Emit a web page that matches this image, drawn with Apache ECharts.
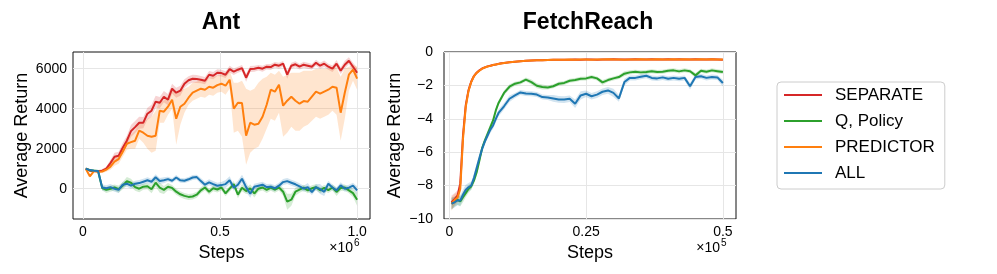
<!DOCTYPE html>
<html>
<head>
<meta charset="utf-8">
<script src="https://cdn.jsdelivr.net/npm/echarts@6/dist/echarts.min.js"></script>
<style>html,body{margin:0;padding:0;background:#fff}#c{width:997px;height:274px}</style>
</head>
<body>
<div id="c"></div>
<script>
// ---------- Ant (x in units of 1e6 steps) ----------
const antSteps = [0.010,0.025,0.040,0.055,0.070,0.085,0.100,0.115,0.130,0.145,0.160,0.175,0.190,0.205,0.220,0.235,0.250,0.265,0.280,0.295,0.310,0.325,0.340,0.355,0.370,0.385,0.400,0.415,0.430,0.445,0.460,0.475,0.490,0.505,0.520,0.535,0.550,0.565,0.580,0.595,0.610,0.625,0.640,0.655,0.670,0.685,0.700,0.715,0.730,0.745,0.760,0.775,0.790,0.805,0.820,0.835,0.850,0.865,0.880,0.895,0.910,0.925,0.940,0.955,0.970,0.985,1.000];
const antSeparate = [1000,900,880,870,900,1000,1280,1600,1650,2050,2400,2880,3080,3300,3300,3750,3900,4350,4300,4600,4450,5000,4800,4900,5250,5420,5500,5480,5450,5400,5700,5650,5800,5780,5700,5980,5850,5950,6030,5550,5980,6000,6050,6000,6100,6080,6200,6150,6250,5700,6150,6220,6100,6200,6150,6100,6300,6150,6250,6100,6000,6250,5900,6200,6400,6100,5800];
const antSeparateStd = [60,80,60,60,80,100,150,200,200,250,250,300,300,300,280,300,300,300,280,280,280,250,250,250,220,200,200,200,180,180,180,180,170,170,170,170,160,150,160,200,150,150,140,150,140,150,140,150,140,200,150,150,140,150,150,140,150,150,160,150,160,180,170,200,170,200,250];
const antQPolicy = [1000,920,900,880,30,-60,0,60,-20,150,380,300,80,0,100,120,-30,300,50,-60,100,40,-150,-280,-360,-410,-390,-300,-80,60,-150,20,-40,60,-230,0,230,-300,50,-120,20,-240,0,60,-60,50,-50,60,-150,-650,-550,-150,-50,50,-80,20,70,-80,40,-70,60,-160,30,60,-80,-220,-550];
const antQPolicyStd = [50,60,60,60,120,150,150,150,180,180,200,200,180,180,150,150,200,200,250,200,180,150,150,150,150,150,150,150,150,150,150,150,150,150,150,150,150,180,180,150,200,200,150,150,150,150,150,150,200,400,300,200,150,150,150,150,150,150,150,150,150,200,150,150,150,200,300];
const antPredictor = [1000,620,880,850,860,950,1100,1350,1480,1850,2250,2330,2400,2900,2800,2650,2600,2650,3900,3850,4100,4450,3500,4100,4250,4550,4800,4900,5000,4950,5100,5050,5180,5250,5150,5450,4000,4300,4280,2650,3300,3200,3250,3600,4200,4950,4850,5200,4150,4400,4600,4400,4250,4380,4350,4600,4850,4750,4850,4950,5100,5050,3800,4800,5700,5950,5500];
const antPredictorLo = [950,550,820,800,790,850,950,1150,1250,1600,1950,2000,2000,2500,2300,2000,1800,1900,3300,3300,3700,4000,2200,3200,3800,4200,4400,4500,4600,4550,4700,4650,4800,4850,4700,5000,2800,2900,2600,1200,1800,2000,2100,2500,3000,3500,3400,3800,2600,2800,3100,2900,2900,3100,3200,3400,3600,3500,3600,3700,3900,3700,2400,3500,4900,5400,4950];
const antPredictorHi = [1050,700,940,900,930,1050,1250,1550,1700,2100,2550,2700,2900,3300,3300,3500,3600,3900,4400,4400,4600,4900,4800,4900,5000,5100,5300,5350,5450,5400,5550,5600,5650,5700,5700,5900,5300,5300,5400,5000,4900,5000,5300,5500,5600,5800,5700,5900,5600,5700,5800,5800,5800,5900,5900,5900,6000,6000,6000,6000,6050,6050,5600,6000,6100,6200,6100];
const antAll = [1000,930,900,890,60,20,80,0,-60,200,250,150,250,280,350,420,350,570,380,420,480,400,560,420,400,470,560,580,380,200,320,230,150,180,230,420,50,200,500,80,-250,100,150,200,80,100,20,150,330,380,300,220,120,0,80,-170,80,-20,-160,250,60,-80,170,0,50,150,-80];
const antAllStd = [50,60,60,60,150,150,150,150,150,150,150,150,150,150,150,150,150,150,150,150,120,120,120,120,120,120,120,120,150,150,150,150,150,150,200,200,150,200,200,250,200,150,150,150,150,150,150,150,150,150,150,150,150,150,200,150,150,250,200,150,150,150,150,150,150,150,200];
const antXTicks = [0, 0.5, 1.0];
const antYTicks = [0, 2000, 4000, 6000];

// ---------- FetchReach (x in units of 1e5 steps) ----------
const fetchSteps = [0.004,0.010,0.015,0.020,0.025,0.030,0.035,0.040,0.045,0.050,0.055,0.060,0.065,0.070,0.075,0.080,0.085,0.090,0.095,0.100,0.110,0.120,0.130,0.140,0.150,0.160,0.170,0.180,0.190,0.200,0.210,0.220,0.230,0.240,0.250,0.260,0.270,0.280,0.290,0.300,0.310,0.320,0.330,0.340,0.350,0.360,0.370,0.380,0.390,0.400,0.410,0.420,0.430,0.440,0.450,0.460,0.470,0.480,0.490,0.500];
const fetchSeparate = [-9.0,-8.8,-8.6,-7.9,-5.0,-3.2,-2.3,-1.78,-1.44,-1.24,-1.1,-0.99,-0.92,-0.86,-0.82,-0.78,-0.75,-0.71,-0.68,-0.66,-0.61,-0.58,-0.55,-0.53,-0.51,-0.5,-0.49,-0.48,-0.47,-0.46,-0.46,-0.46,-0.45,-0.46,-0.45,-0.45,-0.46,-0.45,-0.45,-0.44,-0.45,-0.45,-0.45,-0.44,-0.45,-0.45,-0.44,-0.45,-0.45,-0.44,-0.45,-0.44,-0.45,-0.45,-0.44,-0.45,-0.45,-0.44,-0.45,-0.46];
const fetchSeparateStd = [0.4,0.35,0.3,0.4,0.5,0.3,0.2,0.15,0.1,0.08,0.07,0.06,0.06,0.05,0.05,0.05,0.05,0.05,0.05,0.05,0.04,0.04,0.04,0.04,0.04,0.04,0.04,0.04,0.04,0.04,0.04,0.04,0.04,0.04,0.04,0.04,0.04,0.04,0.04,0.04,0.04,0.04,0.04,0.04,0.04,0.04,0.04,0.04,0.04,0.04,0.04,0.04,0.04,0.04,0.04,0.04,0.04,0.04,0.04,0.04];
const fetchQPolicy = [-9.08,-8.95,-8.85,-8.95,-8.7,-8.45,-8.2,-8.05,-7.7,-7.2,-6.5,-5.75,-5.3,-4.9,-4.5,-4.1,-3.5,-3.05,-2.75,-2.45,-2.08,-1.9,-1.82,-1.65,-1.8,-2.02,-2.1,-2.12,-2.05,-1.9,-1.85,-1.72,-1.68,-1.6,-1.58,-1.5,-1.58,-1.82,-1.68,-1.58,-1.5,-1.3,-1.22,-1.18,-1.22,-1.2,-1.15,-1.2,-1.18,-1.12,-1.1,-1.16,-1.1,-1.15,-1.4,-1.12,-1.18,-1.1,-1.15,-1.2];
const fetchQPolicyStd = [0.35,0.3,0.3,0.3,0.3,0.25,0.25,0.2,0.2,0.2,0.2,0.2,0.2,0.2,0.2,0.15,0.15,0.15,0.15,0.15,0.15,0.12,0.12,0.12,0.15,0.15,0.15,0.12,0.12,0.12,0.12,0.12,0.12,0.12,0.12,0.12,0.12,0.15,0.12,0.12,0.12,0.15,0.12,0.12,0.12,0.12,0.12,0.12,0.12,0.12,0.12,0.12,0.12,0.12,0.15,0.12,0.12,0.12,0.12,0.12];
const fetchPredictor = [-9.1,-8.85,-8.72,-8.2,-5.2,-3.3,-2.35,-1.8,-1.45,-1.25,-1.12,-1.0,-0.93,-0.87,-0.83,-0.78,-0.75,-0.72,-0.69,-0.66,-0.62,-0.58,-0.55,-0.53,-0.51,-0.5,-0.49,-0.48,-0.47,-0.47,-0.46,-0.45,-0.46,-0.45,-0.45,-0.46,-0.45,-0.45,-0.44,-0.45,-0.45,-0.46,-0.45,-0.45,-0.44,-0.45,-0.45,-0.44,-0.45,-0.45,-0.44,-0.45,-0.44,-0.45,-0.45,-0.44,-0.45,-0.44,-0.45,-0.45];
const fetchPredictorStd = [0.4,0.35,0.3,0.45,0.5,0.3,0.2,0.15,0.1,0.08,0.07,0.06,0.06,0.05,0.05,0.05,0.05,0.05,0.05,0.05,0.04,0.04,0.04,0.04,0.04,0.04,0.04,0.04,0.04,0.04,0.04,0.04,0.04,0.04,0.04,0.04,0.04,0.04,0.04,0.04,0.04,0.04,0.04,0.04,0.04,0.04,0.04,0.04,0.04,0.04,0.04,0.04,0.04,0.04,0.04,0.04,0.04,0.04,0.04,0.04];
const fetchAll = [-9.08,-9.0,-8.88,-8.9,-8.55,-8.25,-8.1,-8.0,-7.55,-6.95,-6.35,-5.8,-5.35,-5.0,-4.65,-4.4,-4.0,-3.65,-3.45,-3.25,-2.8,-2.6,-2.42,-2.48,-2.5,-2.55,-2.7,-2.72,-2.78,-2.84,-2.85,-2.8,-3.1,-2.6,-2.5,-2.65,-2.55,-2.38,-2.3,-2.45,-2.78,-1.8,-1.55,-1.55,-1.48,-1.42,-1.55,-1.58,-1.52,-1.6,-1.55,-1.6,-1.55,-2.05,-1.5,-1.45,-1.55,-1.5,-1.52,-1.86];
const fetchAllStd = [0.35,0.3,0.3,0.3,0.3,0.3,0.25,0.25,0.25,0.25,0.25,0.2,0.2,0.2,0.2,0.2,0.2,0.2,0.2,0.2,0.2,0.15,0.15,0.15,0.15,0.15,0.15,0.15,0.2,0.2,0.2,0.2,0.25,0.25,0.2,0.2,0.2,0.2,0.2,0.25,0.2,0.2,0.15,0.15,0.15,0.15,0.15,0.15,0.15,0.15,0.15,0.15,0.15,0.2,0.15,0.15,0.15,0.15,0.15,0.2];
const fetchXTicks = [0, 0.25, 0.5];
const fetchYTicks = [-10, -8, -6, -4, -2, 0];

const seriesNames = ['SEPARATE', 'Q, Policy', 'PREDICTOR', 'ALL'];
const seriesColors = ['#d62728', '#2ca02c', '#ff7f0e', '#1f77b4'];
const bandColors = ['rgba(214,39,40,0.2)', 'rgba(44,160,44,0.2)', 'rgba(255,127,14,0.2)', 'rgba(31,119,180,0.2)'];

const FONT = '"Liberation Sans", Arial, Helvetica, sans-serif';

function lo(v, s) { return v.map((x, i) => x - s[i]); }
function hi(v, s) { return v.map((x, i) => x + s[i]); }

function bandSeries(idx, steps, lower, upper, color) {
  return {
    type: 'custom', name: 'band' + idx + color, xAxisIndex: idx, yAxisIndex: idx,
    silent: true, z: 1,
    data: steps.map((s, i) => [s, lower[i], upper[i]]),
    encode: { x: 0, y: [1, 2] },
    renderItem: function (params, api) {
      if (params.dataIndex !== 0) return null;
      const pts = [];
      for (let i = 0; i < steps.length; i++) pts.push(api.coord([steps[i], upper[i]]));
      for (let i = steps.length - 1; i >= 0; i--) pts.push(api.coord([steps[i], lower[i]]));
      return { type: 'polygon', shape: { points: pts }, style: { fill: color, stroke: null } };
    }
  };
}
function lineSeries(idx, k, steps, vals) {
  return {
    type: 'line', name: seriesNames[k], xAxisIndex: idx, yAxisIndex: idx,
    data: steps.map((s, i) => [s, vals[i]]),
    showSymbol: false, symbol: 'none', z: 3,
    lineStyle: { width: 2, color: seriesColors[k] },
    itemStyle: { color: seriesColors[k] }
  };
}

const antVals = [antSeparate, antQPolicy, antPredictor, antAll];
const antLo = [lo(antSeparate, antSeparateStd), lo(antQPolicy, antQPolicyStd), antPredictorLo, lo(antAll, antAllStd)];
const antHi = [hi(antSeparate, antSeparateStd), hi(antQPolicy, antQPolicyStd), antPredictorHi, hi(antAll, antAllStd)];
const fetchVals = [fetchSeparate, fetchQPolicy, fetchPredictor, fetchAll];
const fetchStds = [fetchSeparateStd, fetchQPolicyStd, fetchPredictorStd, fetchAllStd];

const series = [];
for (let k = 0; k < 4; k++) series.push(bandSeries(0, antSteps, antLo[k], antHi[k], bandColors[k]));
for (let k = 0; k < 4; k++) series.push(bandSeries(1, fetchSteps, lo(fetchVals[k], fetchStds[k]), hi(fetchVals[k], fetchStds[k]), bandColors[k]));
for (let k = 0; k < 4; k++) series.push(lineSeries(0, k, antSteps, antVals[k]));
for (let k = 0; k < 4; k++) series.push(lineSeries(1, k, fetchSteps, fetchVals[k]));

const minus = v => String(v).replace('-', '\u2212');
function xAxis(gi, min, max, ticks, fmt) {
  return {
    type: 'value', gridIndex: gi, min: min, max: max,
    name: 'Steps', nameLocation: 'middle', nameGap: 19,
    nameTextStyle: { fontSize: 18, color: '#000', fontFamily: FONT },
    axisLine: { show: false },
    axisTick: { show: false, customValues: ticks },
    axisLabel: { customValues: ticks, formatter: fmt, fontSize: 14, color: '#000', fontFamily: FONT, margin: 6 },
    splitLine: { show: true, lineStyle: { color: '#e6e6e6', width: 1 } }
  };
}
function yAxis(gi, min, max, ticks, gap, margin) {
  return {
    type: 'value', gridIndex: gi, min: min, max: max,
    name: 'Average Return', nameLocation: 'middle', nameGap: gap,
    nameTextStyle: { fontSize: 18, color: '#000', fontFamily: FONT },
    axisLine: { show: false },
    axisTick: { show: false, customValues: ticks },
    axisLabel: { customValues: ticks, formatter: minus, fontSize: 14, color: '#000', fontFamily: FONT, margin: margin },
    splitLine: { show: true, lineStyle: { color: '#e6e6e6', width: 1 } }
  };
}

const chart = echarts.init(document.getElementById('c'), null, { renderer: 'canvas' });
chart.setOption({
  animation: false,
  backgroundColor: '#fff',
  color: seriesColors,
  title: [
    { text: 'Ant', left: 221, top: 11, textAlign: 'center', padding: 0, textStyle: { fontSize: 23, fontWeight: 'bold', color: '#000', fontFamily: FONT } },
    { text: 'FetchReach', left: 588, top: 11, textAlign: 'center', padding: 0, textStyle: { fontSize: 23, fontWeight: 'bold', color: '#000', fontFamily: FONT } }
  ],
  grid: [
    { left: 73, top: 52, width: 297, height: 167, show: true, borderColor: '#111', borderWidth: 1, backgroundColor: 'transparent' },
    { left: 444, top: 52, width: 292, height: 167, show: true, borderColor: '#111', borderWidth: 1, backgroundColor: 'transparent' }
  ],
  xAxis: [
    xAxis(0, -0.0365, 1.047, antXTicks, v => v === 0 ? '0' : v.toFixed(1)),
    xAxis(1, -0.0097, 0.524, fetchXTicks, v => v === 0 ? '0' : String(v))
  ],
  yAxis: [
    yAxis(0, -1515, 6835, antYTicks, 42, 6),
    yAxis(1, -10, 0, fetchYTicks, 40, 11)
  ],
  legend: {
    data: seriesNames, orient: 'vertical', left: 777, top: 82,
    icon: 'rect', itemWidth: 38, itemHeight: 2, itemGap: 4,
    padding: [2, 10, 5, 7], borderColor: '#cccccc', borderWidth: 1, borderRadius: 4,
    selectedMode: false,
    textStyle: { fontSize: 17, color: '#000', fontFamily: FONT, lineHeight: 22, padding: [0, 0, 0, 8] }
  },
  graphic: [
    { type: 'text', x: 353, y: 248, style: { text: '\u00d710', align: 'right', verticalAlign: 'middle', fontSize: 14, fontFamily: FONT, fill: '#000' } },
    { type: 'text', x: 354, y: 243, style: { text: '6', align: 'left', verticalAlign: 'middle', fontSize: 10, fontFamily: FONT, fill: '#000' } },
    { type: 'text', x: 720, y: 248, style: { text: '\u00d710', align: 'right', verticalAlign: 'middle', fontSize: 14, fontFamily: FONT, fill: '#000' } },
    { type: 'text', x: 721, y: 243, style: { text: '5', align: 'left', verticalAlign: 'middle', fontSize: 10, fontFamily: FONT, fill: '#000' } }
  ],
  series: series
});
</script>
</body>
</html>
